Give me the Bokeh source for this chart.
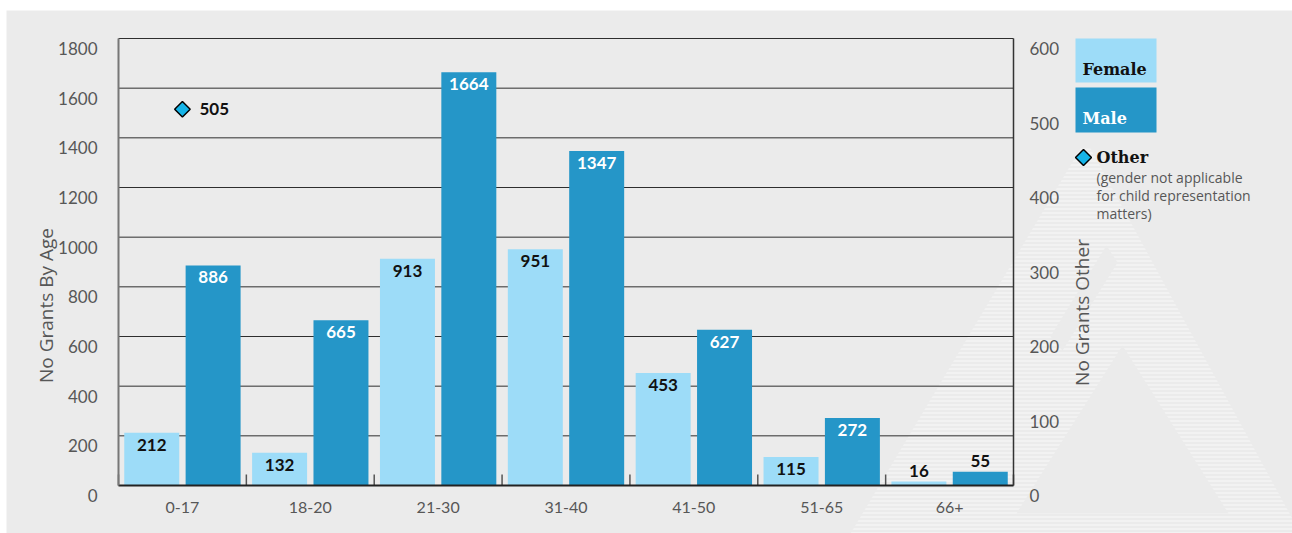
import math

from bokeh.core.properties import value
from bokeh.embed import file_html
from bokeh.layouts import column, row
from bokeh.models import (BoxAnnotation, ColumnDataSource, FixedTicker, Label,
                          LinearAxis, PolyAnnotation, Range1d, Spacer)
from bokeh.plotting import figure
from bokeh.resources import INLINE
from bokeh.transform import dodge

# ---- data -------------------------------------------------------------
ages = ["0-17", "18-20", "21-30", "31-40", "41-50", "51-65", "66+"]
female = [212, 132, 913, 951, 453, 115, 16]
male = [886, 665, 1664, 1347, 627, 272, 55]
other_ages = ["0-17"]
other = [505]

left_ticks = [0, 200, 400, 600, 800, 1000, 1200, 1400, 1600, 1800]
right_ticks = [0, 100, 200, 300, 400, 500, 600]

# ---- style ------------------------------------------------------------
BG = "#ebebeb"
FEMALE_C = "#9ddcf8"
MALE_C = "#2596c8"
OTHER_C = "#16b4e8"
LABEL_GREY = "#575757"
GRID_C = "#2e2e2e"
NUM_FONT = "Lato"
TEXT_FONT = "Open Sans"
SLAB_FONT = "DejaVu Serif"

# ---- page geometry (pixels) -------------------------------------------
OFF_X, OFF_Y = 6, 10              # grey panel starts here on the page
W, H = 1286, 523                  # grey panel size = whole plotting frame
PAGE_R, PAGE_B = OFF_X + W, OFF_Y + H
AX_L, AX_R, AX_T, AX_B = 118, 1013, 38, 485   # bar area on the page
LABEL_DROP = 10                   # tick labels sit a little below their gridline

n = len(ages)
pos = list(range(n))
x_lo, x_hi = -0.5, n - 0.5


def lin(v0, v1, p0, p1):
    """Map page pixel -> value, given value v0 at pixel p0 and v1 at pixel p1."""
    return lambda px: v0 + (px - p0) * (v1 - v0) / (p1 - p0)


x_of = lin(x_lo, x_hi, AX_L, AX_R)
y_of = lin(left_ticks[0], left_ticks[-1], AX_B, AX_T)
o_of = lin(right_ticks[0], right_ticks[-1], AX_B, AX_T)

p = figure(
    x_range=Range1d(x_of(OFF_X), x_of(PAGE_R)),
    y_range=Range1d(y_of(PAGE_B), y_of(OFF_Y)),
    x_axis_location=None, y_axis_location=None,
    width=W, height=H, min_border=0,
    min_border_left=0, min_border_right=0, min_border_top=0, min_border_bottom=0,
    output_backend="svg", toolbar_location=None,
    background_fill_color=BG, border_fill_color=BG, outline_line_color=None,
)
p.grid.visible = False
p.extra_y_ranges = {
    "other": Range1d(o_of(PAGE_B), o_of(OFF_Y)),
    "left_lab": Range1d(y_of(PAGE_B - LABEL_DROP), y_of(OFF_Y - LABEL_DROP)),
    "other_lab": Range1d(o_of(PAGE_B - LABEL_DROP), o_of(OFF_Y - LABEL_DROP)),
    "pgy": Range1d(PAGE_B, OFF_Y),
}
p.extra_x_ranges = {"pgx": Range1d(OFF_X, PAGE_R)}


# ---- axes -------------------------------------------------------------
def label_style(ax, size, standoff):
    ax.major_tick_line_color = None
    ax.minor_tick_line_color = None
    ax.major_label_text_font = NUM_FONT
    ax.major_label_text_font_size = size
    ax.major_label_text_color = LABEL_GREY
    ax.major_label_standoff = standoff


# left: one axis for the rule, one carrying the tick labels
l_rule = LinearAxis(fixed_location=x_lo, bounds=(left_ticks[0], left_ticks[-1]),
                    ticker=FixedTicker(ticks=[]), axis_line_color="#777777",
                    axis_line_width=2, major_tick_line_color=None,
                    minor_tick_line_color=None)
l_lab = LinearAxis(fixed_location=x_lo, y_range_name="left_lab",
                   ticker=FixedTicker(ticks=left_ticks), axis_line_color=None)
label_style(l_lab, "17px", 15)
p.add_layout(l_rule, "left")
p.add_layout(l_lab, "left")

# right: "other" scale
r_rule = LinearAxis(fixed_location=x_hi, y_range_name="other",
                    bounds=(right_ticks[0], right_ticks[-1]),
                    ticker=FixedTicker(ticks=[]), axis_line_color="#333333",
                    axis_line_width=1.5, major_tick_line_color=None,
                    minor_tick_line_color=None)
r_lab = LinearAxis(fixed_location=x_hi, y_range_name="other_lab",
                   ticker=FixedTicker(ticks=right_ticks), axis_line_color=None)
label_style(r_lab, "17px", 10)
p.add_layout(r_rule, "right")
p.add_layout(r_lab, "right")

# bottom: age groups
xa = LinearAxis(fixed_location=0, bounds=(x_lo, x_hi), ticker=FixedTicker(ticks=pos),
                major_label_overrides={i: a for i, a in zip(pos, ages)},
                axis_line_color="#222222", axis_line_width=2)
label_style(xa, "16px", 10)
p.add_layout(xa, "below")

# horizontal gridlines across the bar area only
grid_y = left_ticks[1:]
p.segment(x0=[x_lo] * len(grid_y), x1=[x_hi] * len(grid_y), y0=grid_y, y1=grid_y,
          line_color=GRID_C, line_width=1)

# small separators between the age groups, rising from the baseline
bounds = [x_lo + i for i in range(n + 1)]
sep_h = left_ticks[-1] * 11 / (AX_B - AX_T)
p.segment(x0=bounds, y0=[0] * len(bounds), x1=bounds, y1=[sep_h] * len(bounds),
          line_color="#555555", line_width=1.5)


# polygon annotations work in the default data space: convert page pixels
def poly(xs_px, ys_px, **kw):
    return PolyAnnotation(xs=[x_of(v) for v in xs_px], ys=[y_of(v) for v in ys_px], **kw)


# ---- watermark (striped "A" shape) -----------------------------------
p.add_layout(poly([1080, 1090, 1300, 850], [148, 148, 533, 533], level="image",
                  fill_color=None, line_color=None,
                  hatch_pattern="horizontal_line", hatch_color="white",
                  hatch_alpha=0.65, hatch_scale=4, hatch_weight=1))
# plain gaps: inside the "A" and between its left leg and the outer band
p.add_layout(poly([1122, 1228, 1016], [345, 513, 513], level="image",
                  fill_color=BG, fill_alpha=1, line_color=None))
p.add_layout(poly([1106, 1117, 1062, 1050], [245, 262, 350, 336], level="image",
                  fill_color=BG, fill_alpha=1, line_color=None))

# ---- bars -------------------------------------------------------------
src = ColumnDataSource(dict(pos=pos, age=ages, female=female, male=male))
p.vbar(x=dodge("pos", -0.24), top="female", width=0.43,
       source=src, fill_color=FEMALE_C, line_color=None)
p.vbar(x=dodge("pos", 0.24), top="male", width=0.43,
       source=src, fill_color=MALE_C, line_color=None)

# value labels: inside the bar top when there is room, else just above
INSIDE_MIN = 100


def add_value_labels(vals, shift, inside_color):
    ins = [(i, v) for i, v in zip(pos, vals) if v >= INSIDE_MIN]
    outs = [(i, v) for i, v in zip(pos, vals) if v < INSIDE_MIN]
    for items, base, off, color in ((ins, "top", 6, inside_color),
                                    (outs, "bottom", -5, "#111111")):
        if not items:
            continue
        s = ColumnDataSource(dict(pos=[i for i, _ in items], v=[v for _, v in items],
                                  t=[str(v) for _, v in items]))
        p.text(x=dodge("pos", shift), y="v", text="t", source=s,
               text_align="center", text_baseline=base, y_offset=off,
               text_font=value(NUM_FONT), text_font_style="bold",
               text_font_size="17px", text_color=color)


add_value_labels(female, -0.24, "#111111")
add_value_labels(male, 0.24, "white")

# ---- "other" series on the right scale -------------------------------
osrc = ColumnDataSource(dict(pos=[ages.index(a) for a in other_ages], v=other,
                             t=[str(v) for v in other]))
p.scatter(x="pos", y="v", source=osrc, y_range_name="other", marker="square",
          angle=math.pi / 4, size=11, fill_color=OTHER_C, line_color="black",
          line_width=1.5)
p.text(x="pos", y="v", text="t", source=osrc, y_range_name="other",
       x_offset=17, text_align="left", text_baseline="middle",
       text_font=value(NUM_FONT), text_font_style="bold", text_font_size="17px",
       text_color="#111111")

# ---- axis titles ------------------------------------------------------
title_kw = dict(x_range_name="pgx", y_range_name="pgy", angle=math.pi / 2,
                text_align="center", text_baseline="middle", text_font=TEXT_FONT,
                text_font_size="19px", text_color=LABEL_GREY)
p.add_layout(Label(x=45, y=305, text="No Grants By Age", **title_kw))
p.add_layout(Label(x=1081, y=312, text="No Grants Other", **title_kw))

# ---- legend -----------------------------------------------------------
for top, bottom, fill, name, tcol, ty in ((38, 82, FEMALE_C, "Female", "#111111", 69),
                                          (87, 132, MALE_C, "Male", "white", 118)):
    p.add_layout(BoxAnnotation(left=1075, right=1156, top=top, bottom=bottom,
                               x_range_name="pgx", y_range_name="pgy",
                               fill_color=fill, fill_alpha=1, line_color=None,
                               level="annotation"))
    p.add_layout(Label(x=1082, y=ty, text=name, x_range_name="pgx", y_range_name="pgy",
                       text_baseline="middle", text_font=SLAB_FONT,
                       text_font_style="bold", text_font_size="16px", text_color=tcol))

p.add_layout(poly([1075, 1083, 1091, 1083], [157, 149, 157, 165],
                  fill_color=OTHER_C, fill_alpha=1, line_color="black",
                  line_width=1.5, line_alpha=1, level="annotation"))
p.add_layout(Label(x=1096, y=157, text="Other", x_range_name="pgx", y_range_name="pgy",
                   text_baseline="middle", text_font=SLAB_FONT, text_font_style="bold",
                   text_font_size="16px", text_color="#111111"))
for ty, line in ((177, "(gender not applicable"),
                 (195, "for child representation"),
                 (213, "matters)")):
    p.add_layout(Label(x=1096, y=ty, text=line, x_range_name="pgx", y_range_name="pgy",
                       text_baseline="middle", text_font=TEXT_FONT,
                       text_font_size="14px", text_color=LABEL_GREY))

layout = column(Spacer(height=OFF_Y), row(Spacer(width=OFF_X), p))
open("out.html", "w").write(file_html(layout, INLINE))
